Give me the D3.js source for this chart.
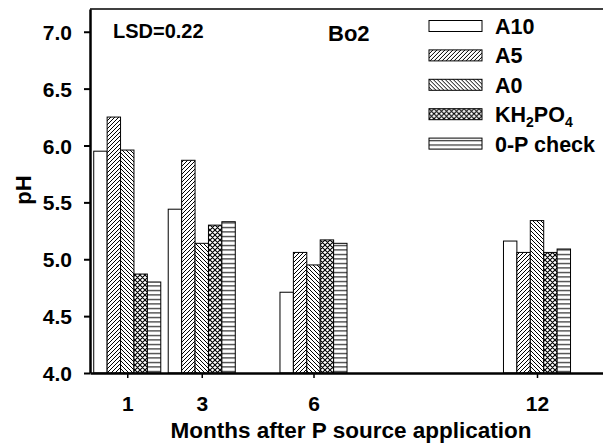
<!DOCTYPE html>
<html>
<head>
<meta charset="utf-8">
<script src="https://cdn.jsdelivr.net/npm/d3@7"></script>
<style>
  body { margin: 0; background: #fff; }
  text { font-family: "Liberation Sans", Arial, sans-serif; font-weight: bold; fill: #000; }
</style>
</head>
<body>
<script>
// chart data
var months = [1, 3, 6, 12];
var seriesNames = ["A10", "A5", "A0", "KH2PO4", "0-P check"];
var A10 = [5.95, 5.44, 4.71, 5.16];
var A5 = [6.25, 5.87, 5.06, 5.06];
var A0 = [5.96, 5.14, 4.95, 5.34];
var KH2PO4 = [4.87, 5.30, 5.17, 5.06];
var check0P = [4.80, 5.33, 5.14, 5.09];
var yTicks = [4.0, 4.5, 5.0, 5.5, 6.0, 6.5, 7.0];

var allSeries = [A10, A5, A0, KH2PO4, check0P];
var fills = ["#fff", "url(#pA5)", "url(#pA0)", "url(#pKH)", "url(#pCheck)"];

var width = 603, height = 447;
var marginLeft = 90, plotTop = 9, plotBottom = 373;

var svg = d3.select("body").append("svg")
    .attr("width", width)
    .attr("height", height);

// hatch patterns
var defs = svg.append("defs");
function pattern(id, w, h, d, sw) {
  var p = defs.append("pattern")
      .attr("id", id)
      .attr("patternUnits", "userSpaceOnUse")
      .attr("width", w).attr("height", h);
  p.append("rect").attr("width", w).attr("height", h).attr("fill", "#fff");
  p.append("path").attr("d", d).attr("stroke", "#000").attr("stroke-width", sw).attr("fill", "none");
}
pattern("pA5", 4, 4, "M-1,1 l2,-2 M0,4 l4,-4 M3,5 l2,-2", 1);
pattern("pA0", 4, 4, "M-1,3 l2,2 M0,0 l4,4 M3,-1 l2,2", 1);
pattern("pKH", 5, 5, "M-1,1 l2,-2 M0,5 l5,-5 M4,6 l2,-2 M-1,4 l2,2 M0,0 l5,5 M4,-1 l2,2", 1.1);
pattern("pCheck", 4, 4.5, "M0,2.5 H4", 1);

var x = d3.scaleLinear().domain([0, 14]).range([marginLeft, marginLeft + 14 * 37.25]);
var y = d3.scaleLinear().domain([4.0, 7.2]).range([plotBottom, plotTop]);
var bw = x(0.36) - x(0);

// bars
var groups = svg.selectAll("g.series")
    .data(allSeries)
    .enter().append("g")
    .attr("class", "series");

groups.each(function(vals, si) {
  d3.select(this).selectAll("rect")
    .data(vals)
    .enter().append("rect")
    .attr("x", function(d, i) { return x(months[i]) + (si - 2.5) * bw; })
    .attr("y", function(d) { return y(d); })
    .attr("width", bw)
    .attr("height", function(d) { return y(4.0) - y(d); })
    .attr("fill", fills[si])
    .attr("stroke", "#000")
    .attr("stroke-width", 1);
});

// frame top line, right side runs off the picture
svg.append("line")
    .attr("x1", marginLeft).attr("x2", width)
    .attr("y1", plotTop).attr("y2", plotTop)
    .attr("stroke", "#000").attr("stroke-width", 1.5);

// axes
var yAxis = svg.append("g")
    .attr("transform", "translate(" + marginLeft + ",0)")
    .call(d3.axisLeft(y).tickValues(yTicks).tickFormat(d3.format(".1f")).tickSize(6).tickSizeOuter(0).tickPadding(12));
yAxis.select(".domain").attr("stroke-width", 2.5);
yAxis.selectAll(".tick line").attr("stroke-width", 2);
yAxis.selectAll(".tick text")
    .attr("font-size", 21)
    .attr("dy", "0.36em");

var xAxis = svg.append("g")
    .attr("transform", "translate(0," + plotBottom + ")")
    .call(d3.axisBottom(x).tickValues(months).tickSize(5).tickSizeOuter(0).tickPadding(8));
xAxis.select(".domain").attr("stroke-width", 2.5);
xAxis.selectAll(".tick line").attr("stroke-width", 1.5);
xAxis.selectAll(".tick text")
    .attr("font-size", 21)
    .attr("y", 38).attr("dy", 0);
svg.selectAll(".domain").attr("stroke", "#000");
svg.selectAll(".tick line").attr("stroke", "#000");
svg.selectAll(".tick text").attr("font-family", null);

// titles
svg.append("text")
    .attr("x", 351).attr("y", 438)
    .attr("text-anchor", "middle")
    .attr("font-size", 22.5)
    .text("Months after P source application");

svg.append("text")
    .attr("transform", "translate(31,190) rotate(-90)")
    .attr("text-anchor", "middle")
    .attr("font-size", 22)
    .text("pH");

svg.append("text")
    .attr("x", 113).attr("y", 37.5)
    .attr("font-size", 20)
    .text("LSD=0.22");

svg.append("text")
    .attr("x", 328).attr("y", 40.5)
    .attr("font-size", 22)
    .text("Bo2");

// legend
var legend = svg.selectAll("g.legend")
    .data(seriesNames)
    .enter().append("g")
    .attr("class", "legend")
    .attr("transform", function(d, i) { return "translate(429," + (20.5 + i * 29.4) + ")"; });

legend.append("rect")
    .attr("width", 53).attr("height", 11)
    .attr("fill", function(d, i) { return fills[i]; })
    .attr("stroke", "#000").attr("stroke-width", 1);

legend.append("text")
    .attr("x", 66).attr("y", 13.5)
    .attr("font-size", 21.5)
    .each(function(d) {
      var t = d3.select(this);
      if (d === "KH2PO4") {
        t.append("tspan").text("KH");
        t.append("tspan").attr("font-size", 14).attr("dy", 5).text("2");
        t.append("tspan").attr("dy", -5).text("PO");
        t.append("tspan").attr("font-size", 14).attr("dy", 5).text("4");
      } else {
        t.text(d);
      }
    });
</script>
</body>
</html>
